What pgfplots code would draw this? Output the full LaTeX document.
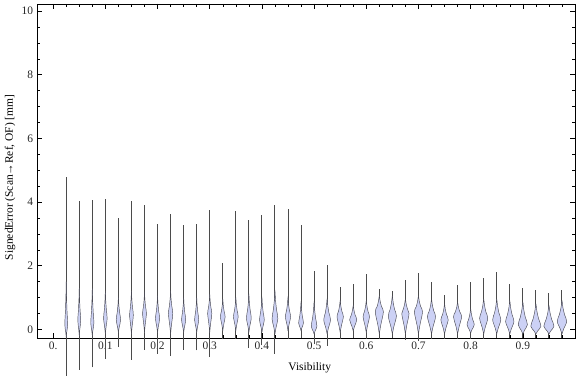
\documentclass[border=0pt]{standalone}
\usepackage{pgfplots}
\pgfplotsset{compat=1.18}
\usepackage{pgfplotstable}
\usepackage{fontspec}
\setmainfont{Liberation Serif}
\definecolor{vfill}{RGB}{204,209,245}
\definecolor{vedge}{RGB}{75,75,85}
\definecolor{vline}{RGB}{75,75,75}

% x: position, lo/hi: range of the violin, b: body bottom, m: widest point, w: half width, t: body top
\pgfplotstableread{
x lo hi b m w t
0.025 -1.45 4.79 -0.25 0.15 0.0027 1.5
0.05 -1.26 4.03 -0.20 0.28 0.0028 1.3
0.075 -1.19 4.06 -0.20 0.20 0.0030 1.3
0.1 -0.92 4.08 -0.15 0.35 0.0034 1.2
0.125 -0.56 3.51 -0.10 0.30 0.0042 1.0
0.15 -0.95 4.03 -0.15 0.45 0.0036 1.2
0.175 -0.64 3.92 -0.10 0.50 0.0037 1.15
0.2 -0.77 3.32 -0.10 0.34 0.0040 1.05
0.225 -0.84 3.61 -0.15 0.50 0.0042 1.2
0.25 -0.64 3.29 -0.10 0.30 0.0040 1.0
0.275 -0.66 3.30 -0.10 0.30 0.0040 1.0
0.3 -0.87 3.74 -0.10 0.50 0.0040 1.1
0.325 -0.31 2.10 -0.05 0.40 0.0045 0.95
0.35 -0.31 3.71 -0.05 0.40 0.0045 1.0
0.375 -0.59 3.43 -0.10 0.36 0.0046 1.1
0.4 -0.50 3.58 -0.10 0.30 0.0046 1.0
0.425 -0.77 3.92 -0.15 0.34 0.0055 1.2
0.45 -0.29 3.77 -0.05 0.40 0.0050 1.0
0.475 -0.27 3.29 -0.05 0.20 0.0046 0.85
0.5 -0.45 1.82 -0.15 0.10 0.0054 0.85
0.525 -0.52 2.01 -0.15 0.30 0.0065 0.95
0.55 -0.30 1.33 -0.10 0.40 0.0061 0.9
0.575 -0.26 1.44 -0.05 0.30 0.0068 0.75
0.6 -0.29 1.73 -0.10 0.40 0.0061 0.9
0.625 -0.29 1.28 -0.15 0.55 0.0078 1.05
0.65 -0.26 1.20 -0.15 0.42 0.0078 1.05
0.675 -0.32 1.56 -0.15 0.50 0.0070 0.95
0.7 -0.37 1.77 -0.15 0.55 0.0078 1.05
0.725 -0.29 1.49 -0.15 0.40 0.0078 0.95
0.75 -0.29 1.07 -0.15 0.30 0.0070 0.8
0.775 -0.29 1.38 -0.15 0.40 0.0078 0.85
0.8 -0.29 1.49 -0.12 0.15 0.0070 0.65
0.825 -0.29 1.63 -0.15 0.35 0.0078 0.95
0.85 -0.26 1.80 -0.15 0.30 0.0078 0.95
0.875 -0.26 1.44 -0.15 0.25 0.0080 0.9
0.9 -0.26 1.31 -0.15 0.15 0.0088 0.85
0.925 -0.26 1.25 -0.15 0.10 0.0097 0.8
0.95 -0.26 1.14 -0.15 0.10 0.0097 0.75
0.975 -0.26 1.23 -0.15 0.25 0.0090 0.9
}\vtab

\begin{document}
\fontsize{11.5}{13.5}\selectfont
\begin{tikzpicture}
\begin{axis}[
  scale only axis,
  width=538bp, height=334bp,
  xmin=-0.031, xmax=1.0,
  ymin=-0.27, ymax=10.22,
  clip=false,
  axis line style={line width=0.6pt, black},
  tick align=inside,
  major tick length=5bp, minor tick length=3bp,
  tick style={black, line width=0.5pt},
  xtick={0,0.1,0.2,0.3,0.4,0.5,0.6,0.7,0.8,0.9},
  xticklabels={0.,0.1,0.2,0.3,0.4,0.5,0.6,0.7,0.8,0.9},
  minor xtick={0.025,0.05,...,1.0},
  ytick={0,2,4,6,8,10},
  minor ytick={0.5,1,1.5,2.5,3,3.5,4.5,5,5.5,6.5,7,7.5,8.5,9,9.5},
  /pgf/number format/assume math mode=true,
  tick label style={text=black!85},
  xlabel={Visibility},
  ylabel={SignedError (Scan→Ref, OF) [mm]},
  every axis x label/.style={at={(axis description cs:0.507,-0.09)}, anchor=center},
  every axis y label/.style={at={(axis description cs:-0.05,0.481)}, rotate=90, anchor=center},
]
\pgfplotstablegetrowsof{\vtab}
\pgfmathtruncatemacro\nrows{\pgfplotsretval-1}
\pgfplotsforeachungrouped \i in {0,...,\nrows}{
  \pgfplotstablegetelem{\i}{x}\of\vtab \let\vx\pgfplotsretval
  \pgfplotstablegetelem{\i}{lo}\of\vtab \let\vlo\pgfplotsretval
  \pgfplotstablegetelem{\i}{hi}\of\vtab \let\vhi\pgfplotsretval
  \pgfplotstablegetelem{\i}{b}\of\vtab \let\vb\pgfplotsretval
  \pgfplotstablegetelem{\i}{m}\of\vtab \let\vm\pgfplotsretval
  \pgfplotstablegetelem{\i}{w}\of\vtab \let\vw\pgfplotsretval
  \pgfplotstablegetelem{\i}{t}\of\vtab \let\vt\pgfplotsretval
  \pgfmathsetmacro\xa{\vx+0.35*\vw}\pgfmathsetmacro\xna{\vx-0.35*\vw}
  \pgfmathsetmacro\xb{\vx+\vw}\pgfmathsetmacro\xnb{\vx-\vw}
  \pgfmathsetmacro\xc{\vx+0.55*\vw}\pgfmathsetmacro\xnc{\vx-0.55*\vw}
  \pgfmathsetmacro\xd{\vx+0.2*\vw}\pgfmathsetmacro\xnd{\vx-0.2*\vw}
  \pgfmathsetmacro\ya{\vb+0.4*(\vm-\vb)}
  \pgfmathsetmacro\yc{\vm+0.33*(\vt-\vm)}
  \pgfmathsetmacro\yd{\vm+0.68*(\vt-\vm)}
  \edef\cmd{%
    \noexpand\addplot[vline, line width=1.0pt] coordinates {(\vx,\vlo) (\vx,\vhi)};
    \noexpand\addplot[fill=vfill, draw=vedge, line width=0.45pt, smooth, tension=0.55]
      coordinates {(\vx,\vb) (\xa,\ya) (\xb,\vm) (\xc,\yc) (\xd,\yd) (\vx,\vt)
                   (\xnd,\yd) (\xnc,\yc) (\xnb,\vm) (\xna,\ya) (\vx,\vb)};
  }%
  \cmd
}
\end{axis}
\pgfresetboundingbox
\path[use as bounding box] ([shift={(-37bp,-39bp)}]current axis.south west) rectangle ([shift={(1bp,4bp)}]current axis.north east);
\end{tikzpicture}
\end{document}
